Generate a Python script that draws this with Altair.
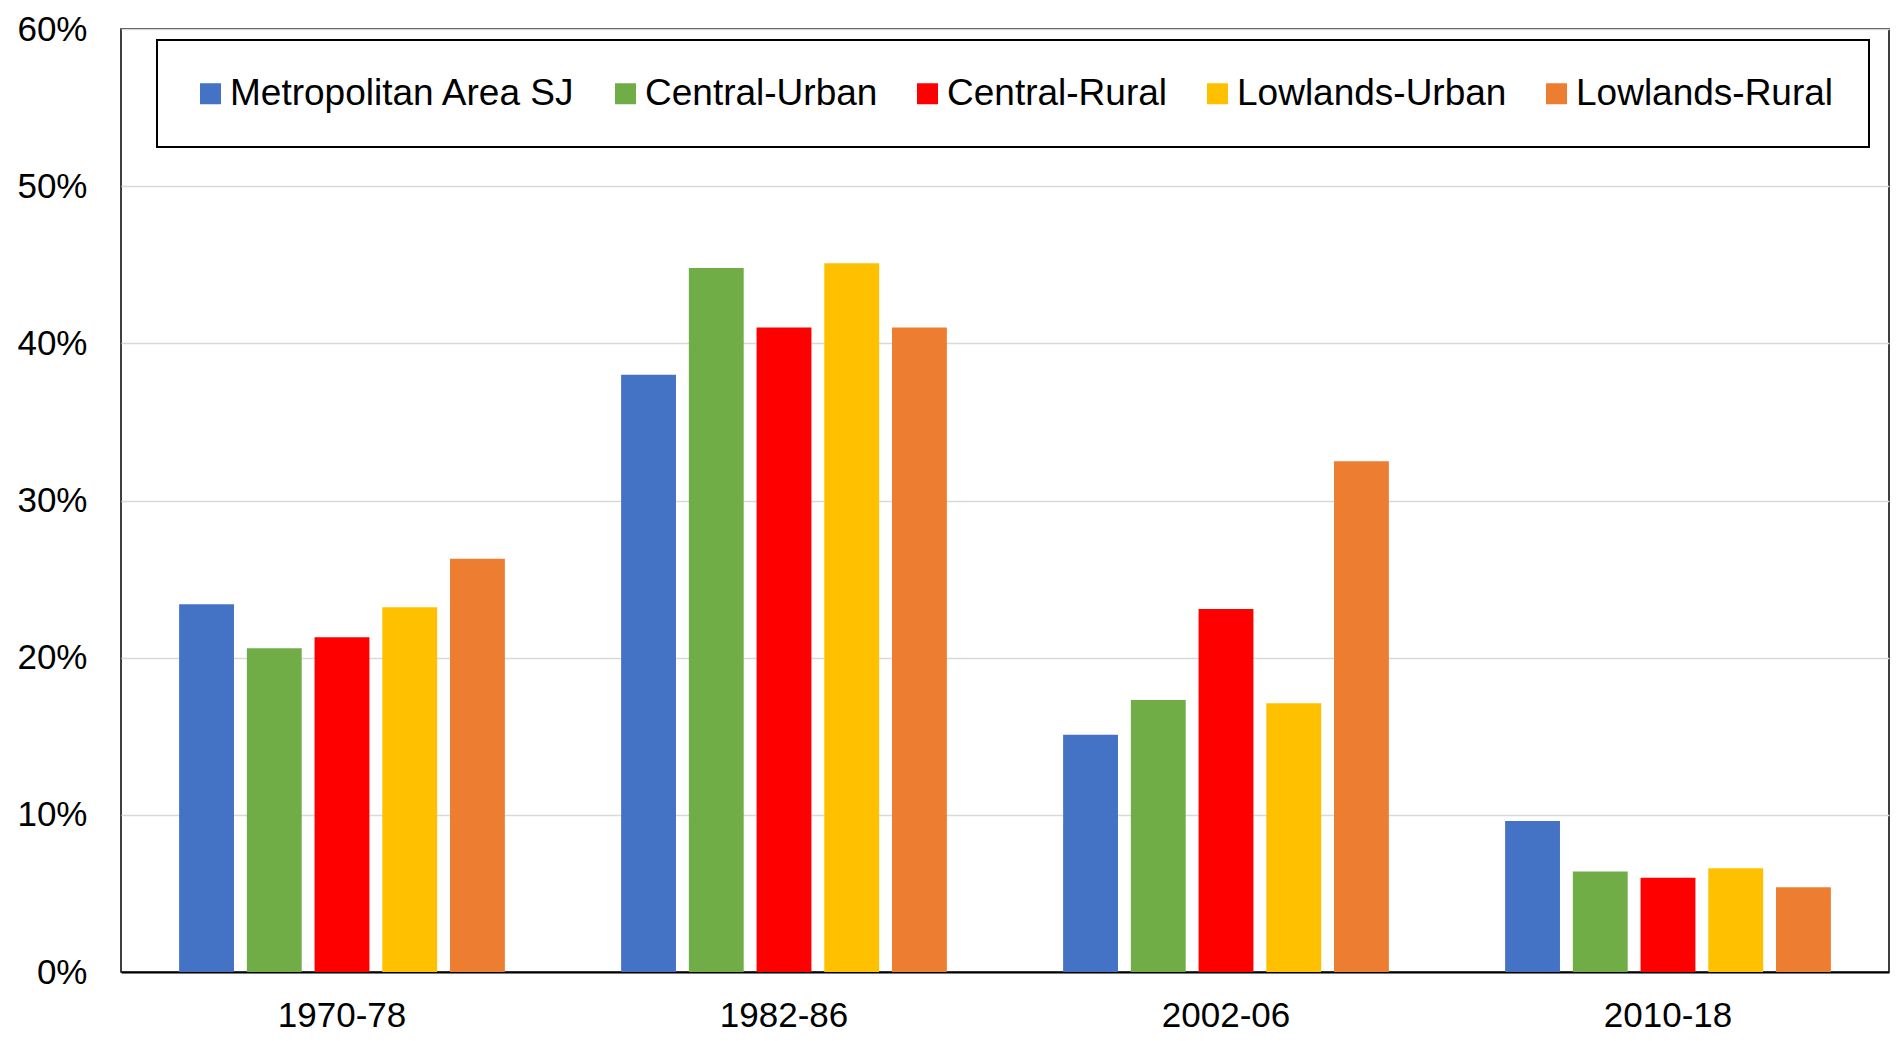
import altair as alt
import pandas as pd

periods = ["1970-78", "1982-86", "2002-06", "2010-18"]
regions = ["Metropolitan Area SJ", "Central-Urban", "Central-Rural", "Lowlands-Urban", "Lowlands-Rural"]
colors = ["#4472C4", "#70AD47", "#FF0000", "#FFC000", "#ED7D31"]

metro = [23.4, 38.0, 15.1, 9.6]
central_urban = [20.6, 44.8, 17.3, 6.4]
central_rural = [21.3, 41.0, 23.1, 6.0]
lowlands_urban = [23.2, 45.1, 17.1, 6.6]
lowlands_rural = [26.3, 41.0, 32.5, 5.4]

series = [metro, central_urban, central_rural, lowlands_urban, lowlands_rural]
rows = []
for reg, vals in zip(regions, series):
    for p, v in zip(periods, vals):
        rows.append({"period": p, "region": reg, "value": v / 100.0})
df = pd.DataFrame(rows)

FONT = "Liberation Sans"

chart = alt.Chart(df).mark_bar().encode(
    x=alt.X("period:N", sort=periods, title=None,
            scale=alt.Scale(paddingInner=0.263, paddingOuter=0.1315),
            axis=alt.Axis(labelAngle=0, labelFontSize=35, labelFont=FONT, labelColor="black",
                          ticks=False, tickSize=0, labelPadding=26, domainColor="black",
                          domainWidth=2, grid=False)),
    xOffset=alt.XOffset("region:N", sort=regions,
                        scale=alt.Scale(paddingInner=0.19, paddingOuter=0)),
    y=alt.Y("value:Q", title=None,
            scale=alt.Scale(domain=[0, 0.6], nice=False),
            axis=alt.Axis(format=".0%", values=[0, 0.1, 0.2, 0.3, 0.4, 0.5, 0.6],
                          labelFontSize=35, labelFont=FONT, labelColor="black",
                          ticks=False, tickSize=0, labelPadding=34, domain=False,
                          grid=True, gridColor="#d9d9d9", gridWidth=1.5)),
    color=alt.Color("region:N", sort=regions,
                    scale=alt.Scale(domain=regions, range=colors),
                    legend=alt.Legend(title=None, orient="none", legendX=36, legendY=11,
                                      direction="horizontal", columns=5,
                                      symbolType="square", symbolSize=441,
                                      symbolStrokeWidth=0, symbolOpacity=1,
                                      labelFontSize=37, labelFont=FONT, labelColor="black",
                                      labelOffset=1, labelLimit=600, columnPadding=31,
                                      padding=35, strokeColor="black", fillColor="white")),
).properties(
    width=1768, height=943,
    autosize=alt.AutoSizeParams(type="none"),
    padding={"left": 113, "top": 21, "right": 2, "bottom": 61},
).configure_view(
    stroke="black", strokeWidth=1.5
).configure_legend(
    strokeWidth=2
)

chart.save("out.html", embed_options={"renderer": "svg", "actions": False})
